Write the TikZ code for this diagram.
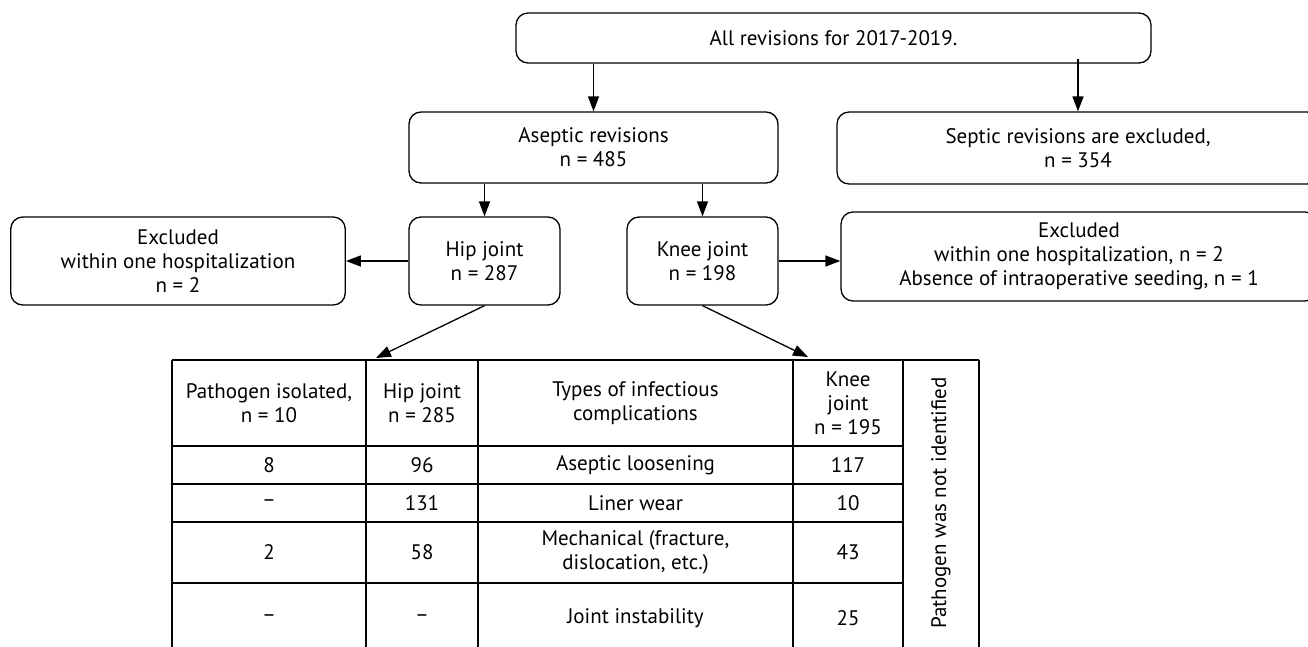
\documentclass[tikz,border=0pt]{standalone}
\usepackage{fontspec}
\setmainfont{PT Sans}
\usetikzlibrary{arrows.meta}
\begin{document}
\begin{tikzpicture}[x=1pt,y=-1pt,
  box/.style={draw, rounded corners=12pt, align=center, inner sep=0pt, line width=1.3pt},
  arr/.style={-{Triangle[length=15pt,width=11pt]}, line width=1.3pt},
  tline/.style={line width=1.3pt},
  cell/.style={align=center, inner sep=0pt},
  font=\fontsize{21}{24}\selectfont]
\clip (0,0) rectangle (1308,646);
% flowchart boxes
\node[box, minimum width=635pt, minimum height=50pt] (all) at (833.5,38) {All revisions for 2017-2019.};
\node[box, minimum width=369pt, minimum height=71pt] (aseptic) at (593.5,147.5) {Aseptic revisions\\n = 485};
\node[box, minimum width=482pt, minimum height=72pt] (septic) at (1078,148) {Septic revisions are excluded,\\n = 354};
\node[box, minimum width=151pt, minimum height=88pt] (hip) at (484.5,261) {Hip joint\\n = 287};
\node[box, minimum width=151pt, minimum height=88pt] (knee) at (702.5,261) {Knee joint\\n = 198};
\node[box, minimum width=334.5pt, minimum height=88pt] (exclL) at (178,261) {Excluded\\within one hospitalization\\n = 2};
\node[box, minimum width=476pt, minimum height=89pt] (exclR) at (1079,256.5) {Excluded\\within one hospitalization, n = 2\\Absence of intraoperative seeding, n = 1};
% connectors
\draw[arr] (all.south -| aseptic.north) -- (aseptic.north);
\draw[arr] ([yshift=5pt]all.south -| septic.north) -- (septic.north);
\draw[arr] (aseptic.south -| hip.north) -- (hip.north);
\draw[arr] (aseptic.south -| knee.north) -- (knee.north);
\draw[arr] (hip.west) -- (exclL.east);
\draw[arr] (knee.east) -- (knee.east -| exclR.west);
\coordinate (hiptip) at (376,358);
\coordinate (kneetip) at (808,357);
\draw[arr] (hip.south) -- (hiptip);
\draw[arr] (knee.south) -- (kneetip);
% table grid
\draw[tline] (172,360) -- (979,360);
\foreach \yy in {446,484,522,583} \draw[tline] (172,\yy) -- (903,\yy);
\foreach \xx in {172,366,478,793,903,979} \draw[tline] (\xx,360) -- (\xx,660);
% table cells
\node[cell] (h1) at (269,403) {Pathogen isolated,\\n = 10};
\node[cell] (h2) at (422,403) {Hip joint\\n = 285};
\node[cell] (h3) at (635.5,403) {Types of infectious\\complications};
\node[cell] (h4) at (848,403) {Knee\\joint\\n = 195};
\node[cell, rotate=90] (notid) at (941,503) {Pathogen was not identified};
\node[cell] (a1) at (269,465) {8};
\node[cell] (a2) at (422,465) {96};
\node[cell] (a3) at (635.5,465) {Aseptic loosening};
\node[cell] (a4) at (848,465) {117};
\node[cell] (b1) at (269,503) {–};
\node[cell] (b2) at (422,503) {131};
\node[cell] (b3) at (635.5,503) {Liner wear};
\node[cell] (b4) at (848,503) {10};
\node[cell] (c1) at (269,552.5) {2};
\node[cell] (c2) at (422,552.5) {58};
\node[cell] (c3) at (635.5,552.5) {Mechanical (fracture,\\dislocation, etc.)};
\node[cell] (c4) at (848,552.5) {43};
\node[cell] (d1) at (269,618) {–};
\node[cell] (d2) at (422,618) {–};
\node[cell] (d3) at (635.5,618) {Joint instability};
\node[cell] (d4) at (848,618) {25};
\end{tikzpicture}
\end{document}
